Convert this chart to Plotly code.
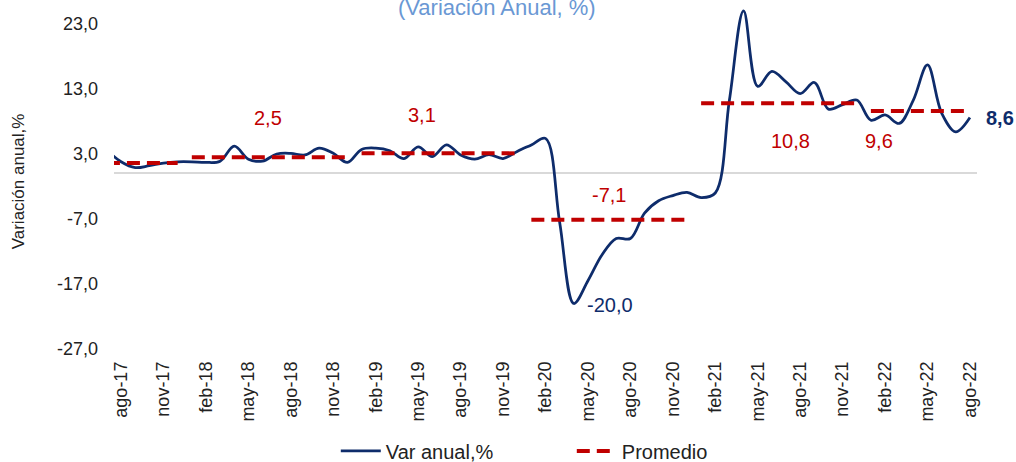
import plotly.graph_objects as go

# ---- data ----
months = (
    ["jul-17", "ago-17", "sep-17", "oct-17", "nov-17", "dic-17"]
    + [m + "-18" for m in ["ene", "feb", "mar", "abr", "may", "jun", "jul", "ago", "sep", "oct", "nov", "dic"]]
    + [m + "-19" for m in ["ene", "feb", "mar", "abr", "may", "jun", "jul", "ago", "sep", "oct", "nov", "dic"]]
    + [m + "-20" for m in ["ene", "feb", "mar", "abr", "may", "jun", "jul", "ago", "sep", "oct", "nov", "dic"]]
    + [m + "-21" for m in ["ene", "feb", "mar", "abr", "may", "jun", "jul", "ago", "sep", "oct", "nov", "dic"]]
    + [m + "-22" for m in ["ene", "feb", "mar", "abr", "may", "jun", "jul", "ago"]]
)

var_2017 = [3.6, 1.8, 0.9, 1.2, 1.6, 1.8]
var_2018 = [1.8, 1.7, 1.9, 4.2, 2.2, 1.9, 3.0, 3.1, 2.85, 3.9, 3.1, 1.7]
var_2019 = [3.7, 3.9, 3.5, 2.3, 4.1, 2.6, 4.4, 2.85, 2.2, 2.9, 2.3, 3.4]
var_2020 = [4.4, 5.4, -7.5, -20.0, -16.5, -12.5, -10.0, -10.0, -6.1, -4.2, -3.4, -2.9]
var_2021 = [-3.7, -3.0, 11.3, 25.0, 13.4, 15.7, 14.1, 12.3, 14.0, 9.9, 10.6, 11.3]
var_2022 = [8.2, 9.0, 7.7, 11.3, 16.7, 9.3, 6.4, 8.6]
var_anual = var_2017 + var_2018 + var_2019 + var_2020 + var_2021 + var_2022

# yearly averages: (first month, last month, value)
avg_start = ["jul-17", "ene-18", "ene-19", "ene-20", "ene-21", "ene-22"]
avg_end = ["dic-17", "dic-18", "dic-19", "dic-20", "dic-21", "ago-22"]
avg_value = [1.6, 2.5, 3.1, -7.1, 10.8, 9.6]
avg_labels = ["", "2,5", "3,1", "-7,1", "10,8", "9,6"]

tick_months = months[1::3]
y_ticks = [-27, -17, -7, 3, 13, 23]

NAVY = "#0E2C6B"
RED = "#C00000"
FONT = "Arial, Liberation Sans, sans-serif"

x_idx = list(range(len(months)))

avg_x, avg_y = [], []
for s, e, v in zip(avg_start, avg_end, avg_value):
    avg_x += [months.index(s), months.index(e), None]
    avg_y += [v, v, None]

fig = go.Figure()
fig.add_trace(go.Scatter(
    x=x_idx, y=var_anual, mode="lines", name="Var anual,%",
    line=dict(color=NAVY, width=2.75, shape="spline", smoothing=1.0),
))
fig.add_trace(go.Scatter(
    x=avg_x, y=avg_y, mode="lines", name="Promedio",
    line=dict(color=RED, width=4, dash="13px,7px"),
))

# average labels
label_pos = {"2,5": (11.36, 8.5), "3,1": (22.24, 9.0), "-7,1": (35.5, -3.3),
             "10,8": (48.34, 5.0), "9,6": (54.6, 5.0)}
for t in avg_labels:
    if t:
        x, y = label_pos[t]
        fig.add_annotation(x=x, y=y, xref="x", yref="y", text=t, showarrow=False,
                           font=dict(family=FONT, size=20, color=RED))

# minimum label
i_min = var_anual.index(min(var_anual))
fig.add_annotation(x=i_min, y=min(var_anual), xref="x", yref="y",
                   text=f"{min(var_anual):.1f}".replace(".", ","), showarrow=False,
                   xanchor="left", xshift=11, yshift=-1,
                   font=dict(family=FONT, size=20, color=NAVY))
# last value label
fig.add_annotation(x=len(months) - 1, y=var_anual[-1], xref="x", yref="y",
                   text="<b>" + f"{var_anual[-1]:.1f}".replace(".", ",") + "</b>",
                   showarrow=False, xanchor="left", xshift=14, yshift=0,
                   font=dict(family=FONT, size=20, color=NAVY))

# title (cropped at top in reference)
fig.add_annotation(x=0.4438, y=1, xref="paper", yref="paper", yanchor="middle",
                   yshift=-7, text="(Variación Anual, %)", showarrow=False,
                   font=dict(family=FONT, size=22, color="#6A98D4"))
# y-axis title
fig.add_annotation(x=-0.111, y=0.481, xref="paper", yref="paper",
                   xanchor="center", yanchor="middle",
                   text="Variación anual,%", textangle=-90, showarrow=False,
                   font=dict(family=FONT, size=17, color="#222222"))

fig.update_layout(
    width=1016, height=462, autosize=False,
    margin=dict(l=114, r=39, t=0, b=113, autoexpand=False),
    paper_bgcolor="white", plot_bgcolor="white",
    font=dict(family=FONT, size=18, color="#222222"),
    legend=dict(orientation="h", x=0.257, xanchor="left", y=-0.292, yanchor="middle",
                font=dict(family=FONT, size=20, color="#222222"),
                entrywidth=181, itemwidth=40),
    showlegend=True,
)
fig.update_xaxes(
    range=[0.5, len(months) - 0.5],
    tickmode="array", tickvals=[months.index(m) for m in tick_months], ticktext=tick_months,
    tickangle=-90, showgrid=False, zeroline=False, showline=False, ticks="",
    ticklabelstandoff=8, tickfont=dict(size=18),
)
fig.update_yaxes(
    range=[-27, 26.69],
    tickmode="array", tickvals=y_ticks,
    ticktext=[f"{v:.1f}".replace(".", ",") for v in y_ticks],
    showgrid=False, zeroline=True, zerolinecolor="#D9D9D9", zerolinewidth=2,
    showline=False, ticks="", ticklabelstandoff=15, tickfont=dict(size=18),
)

fig.write_html("out.html",
               config={"responsive": False, "displayModeBar": False},
               post_script="document.body.style.margin='0';document.body.style.overflow='hidden';")
